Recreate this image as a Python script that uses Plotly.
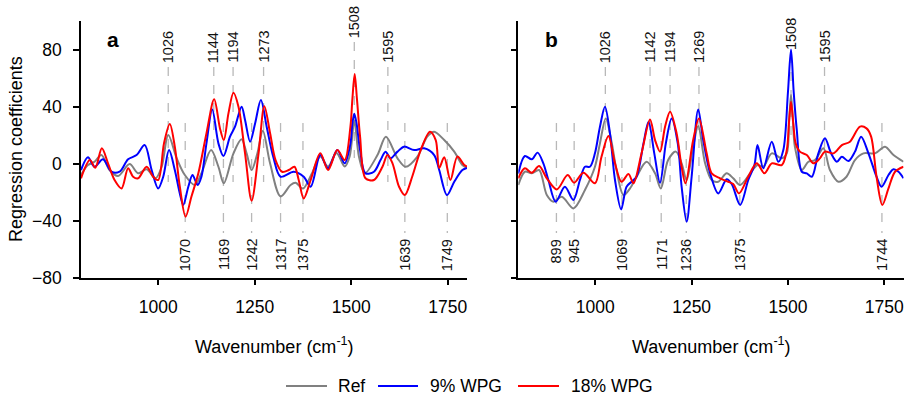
import plotly.graph_objects as go

# ---------------- data ----------------
# Panel a
a_ref_x = [800, 818, 835, 853, 874, 896, 926, 948, 970, 993, 1009, 1026, 1048, 1069, 1095, 1112, 1137, 1156, 1170, 1195,
           1216, 1229, 1242, 1257, 1271, 1290, 1317, 1343, 1356, 1375, 1398, 1420, 1440, 1462, 1483, 1496, 1508, 1520,
           1535, 1568, 1590, 1620, 1641, 1671, 1697, 1715, 1741, 1767, 1788, 1800]
a_ref_y = [-8, -1, 1.3, 6, -4.5, -8.7, -0.3, -6.8, -4, -10.3, -2.2, 20, 3.7, -8, -15, -6.8, 9.5, -2.2, -13.8, 7.2,
           17, 7.2, -4.5, 7.2, 23.1, 0, -23, -15, -13.5, -17.5, -7, 5, -2, 7.5, -2, 5, 30, 5,
           -6.8, 6, 18.9, 3.7, -2.2, 4.8, 18.9, 22.4, 16.5, 8.4, -1, -3]

a_wpg9_x = [800, 818, 835, 857, 879, 900, 922, 944, 965, 983, 1000, 1013, 1028, 1043, 1056, 1065, 1078, 1089, 1102,
            1112, 1125, 1140, 1156, 1169, 1186, 1199, 1216, 1225, 1238, 1251, 1266, 1281, 1298, 1317, 1351, 1377,
            1395, 1420, 1440, 1464, 1483, 1498, 1503, 1508, 1514, 1523, 1537, 1559, 1576, 1589, 1602, 1620, 1637,
            1663, 1689, 1715, 1728, 1748, 1767, 1788, 1800]
a_wpg9_y = [-4.5, 4.4, -2.2, 3, -5.7, -5.7, 3, 6, 13, -4.5, -17.4, -9.2, 9.5, -4.5, -20.9, -29, -16.2, -8, -15,
            -9.2, 14.2, 38, 14.2, 5.3, 18.9, 25.9, 39.9, 30.6, 15.4, 28.2, 44.6, 25.9, 4.8, -9.2, -5.7, -9.2,
            -16.2, 6, -3.3, 9.5, 0.2, 14, 28, 35, 28, 9.5, -6.8, -5.7, 2.5, 8.4, 3.7, 8.4, 11.9,
            9.5, 10.7, 6, -4.5, -22, -12.7, -4.5, -3]

a_wpg18_x = [800, 823, 837, 854, 870, 887, 905, 922, 935, 948, 970, 987, 1000, 1015, 1030, 1043, 1056, 1071, 1086,
             1104, 1125, 1145, 1160, 1170, 1182, 1195, 1208, 1225, 1242, 1260, 1275, 1290, 1304, 1321, 1338, 1353,
             1364, 1377, 1395, 1420, 1440, 1464, 1483, 1498, 1503, 1509, 1515, 1523, 1537, 1559, 1581, 1594, 1607,
             1624, 1639, 1658, 1680, 1704, 1719, 1728, 1741, 1757, 1775, 1793, 1800]
a_wpg18_y = [-10.3, 2.5, -2.9, 10.7, 0.2, -11.5, -17.4, -3.3, -9.2, -10.3, -2.2, -9.2, -11.5, 14.2, 27.8, 11.9, -16.2,
             -37.2, -23.2, -6.8, 21.2, 45.1, 24.7, 16.5, 35.2, 49.7, 39.9, 7.2, -26, 7.2, 40.2, 21.2, 2.5, -5.7, -4.5,
             -2.2, -11.5, -24.4, -11.5, 7.2, -4.5, 9.5, 2.5, 25.9, 45, 62.8, 45, 18.9, -10.3, -11.5, -2.2, 6, 0.2,
             -16.2, -22, -9.2, 9.5, 22.4, 16.5, -3, 4.5, -11.5, 4.9, -1, -2]

# Panel b
b_ref_x = [800, 817, 835, 854, 874, 891, 913, 943, 973, 999, 1012, 1027, 1042, 1055, 1073, 1090, 1107, 1133, 1155,
           1170, 1189, 1209, 1224, 1237, 1254, 1267, 1285, 1302, 1319, 1341, 1358, 1376, 1402, 1421, 1436, 1458,
           1484, 1497, 1503, 1508, 1513, 1518, 1536, 1553, 1570, 1592, 1609, 1631, 1652, 1674, 1696, 1726, 1752,
           1774, 1800]
b_ref_y = [-15, -5.7, -6.8, -4.5, -22, -26.7, -23.2, -31.4, -18.5, -2.2, 14.2, 31.7, 15.4, -4.5, -22, -17.4, -9.2,
           1.3, -6.8, -17.4, 2.5, 8.4, 0.2, -11.5, 11.9, 26.4, 0.2, -11.5, -12.7, -6.8, -10.3, -15, -6.8, -1, -2.2,
           7.2, 3.7, 7.2, 30, 48.1, 30, 11.9, -4.5, 1.3, 2.5, 10.7, -4.5, -12.7, -9.2, 2.5, 7.2, 7.2, 11.9,
           6, 1.3]

b_wpg9_x = [800, 817, 835, 850, 865, 878, 897, 921, 943, 960, 973, 986, 999, 1012, 1025, 1038, 1051, 1067, 1081,
            1094, 1107, 1125, 1138, 1153, 1168, 1183, 1198, 1214, 1224, 1237, 1250, 1267, 1280, 1298, 1319, 1341,
            1354, 1376, 1397, 1413, 1421, 1436, 1458, 1475, 1488, 1500, 1508, 1515, 1523, 1536, 1549, 1562, 1579,
            1596, 1612, 1627, 1640, 1657, 1674, 1690, 1709, 1730, 1743, 1761, 1774, 1787, 1800]
b_wpg9_y = [-7, 5.3, 3, 7.7, 0.2, -11.5, -26.7, -16.2, -25.5, -11.5, -2.2, -2.2, 7.2, 25.9, 39.9, 21.2, -11.5, -32.1,
            -16.2, -12.7, -9.2, 14.2, 29.4, 7.2, -13.4, 14.2, 31.7, 14.2, -16.2, -40.7, -9.2, 38, 16.5, -6.8, -20.9,
            -11, -14.3, -29, -11.5, -1, 13, -3.3, 15.4, 1.3, 9.5, 50, 80, 50, 23.5, -5.7, -6.8, -9.2, 7.2,
            17.7, 7.2, 1.3, 4.8, 1.8, 8.4, 18.9, 7.2, -9.2, -16.2, -8, -4, -5.7, -10.3]

b_wpg18_x = [800, 817, 835, 854, 874, 900, 928, 945, 969, 999, 1016, 1034, 1051, 1068, 1086, 1099, 1120, 1142, 1155,
             1168, 1181, 1194, 1211, 1224, 1234, 1254, 1269, 1289, 1302, 1324, 1345, 1358, 1373, 1397, 1419, 1439,
             1458, 1484, 1497, 1503, 1508, 1514, 1520, 1531, 1549, 1566, 1583, 1596, 1618, 1640, 1661, 1687, 1704,
             1716, 1730, 1745, 1761, 1778, 1800]
b_wpg18_y = [-10.3, -3.3, -6.4, -1.7, -10.3, -18.1, -8, -13.4, -6.4, -13.8, 4.8, 19.3, 0.2, -12.7, -7.3, -13.8, 7.2,
             31, 16.5, 8.4, 25.9, 36.4, 21.2, -2.2, -13.8, 16.5, 31.7, 7.2, -6.8, -10.3, -12.7, -14.3, -20.9, -9.2,
             0.2, -6.8, 0.2, -1, 9.5, 30, 43.4, 28, 14.2, 8.4, 6, 0.2, 3.7, 8.4, 7.2, 13, 15.4, 25.9, 24.7,
             18.9, -9.2, -29, -17.4, -5.7, -2.2]

series_names = ["Ref", "9% WPG", "18% WPG"]
series_colors = ["#808080", "#0000FF", "#FF0000"]

# Peak markers
a_peaks_top = [1026, 1144, 1194, 1273, 1595]
a_peaks_high = [1508]
a_peaks_bot = [1070, 1169, 1242, 1317, 1375, 1639, 1749]
b_peaks_top = [1026, 1142, 1194, 1269, 1595]
b_peaks_high = [1508]
b_peaks_bot = [899, 945, 1069, 1171, 1236, 1375, 1744]

x_ticks = [1000, 1250, 1500, 1750]
y_ticks = [-80, -40, 0, 40, 80]
x_range = [800, 1800]
y_range = [-80, 100]

# ---------------- figure ----------------
W, H = 908, 396
FONT = "Liberation Sans, Arial, sans-serif"

fig = go.Figure()

panels = [
    ("x", "y", [(a_ref_x, a_ref_y), (a_wpg9_x, a_wpg9_y), (a_wpg18_x, a_wpg18_y)]),
    ("x2", "y2", [(b_ref_x, b_ref_y), (b_wpg9_x, b_wpg9_y), (b_wpg18_x, b_wpg18_y)]),
]
for xa, ya, data in panels:
    for (xs, ys), name, col in zip(data, series_names, series_colors):
        fig.add_trace(go.Scatter(x=xs, y=ys, mode="lines", name=name, xaxis=xa, yaxis=ya,
                                 line=dict(color=col, width=2, shape="spline", smoothing=0.9),
                                 showlegend=False))

def py2v(py):
    # pixel row -> data value
    return (163.6 - py) / 1.426

dash_col = "#b8b8b8"
shapes = []
annotations = []

def add_peaks(xa, ya, top, high, bot, high_txt_py, high_dash):
    for w in top:
        shapes.append(dict(type="line", xref=xa, yref=ya, x0=w, x1=w, y0=py2v(67), y1=py2v(182),
                           line=dict(color=dash_col, width=1.3, dash="dash"), layer="below"))
        annotations.append(dict(xref=xa, yref=ya, x=w, y=py2v(65), text=str(w), textangle=-90,
                                showarrow=False, xanchor="center", yanchor="bottom",
                                font=dict(size=14.5, color="#111", family=FONT)))
    for w in high:
        shapes.append(dict(type="line", xref=xa, yref=ya, x0=w, x1=w, y0=py2v(high_dash[0]), y1=py2v(high_dash[1]),
                           line=dict(color=dash_col, width=1.3, dash="dash"), layer="below"))
        annotations.append(dict(xref=xa, yref=ya, x=w, y=py2v(high_txt_py), text=str(w), textangle=-90,
                                showarrow=False, xanchor="center", yanchor="bottom",
                                font=dict(size=14.5, color="#111", family=FONT)))
    for w in bot:
        shapes.append(dict(type="line", xref=xa, yref=ya, x0=w, x1=w, y0=py2v(123), y1=py2v(233),
                           line=dict(color=dash_col, width=1.3, dash="dash"), layer="below"))
        annotations.append(dict(xref=xa, yref=ya, x=w, y=py2v(237), text=str(w), textangle=-90,
                                showarrow=False, xanchor="center", yanchor="top",
                                font=dict(size=14.5, color="#111", family=FONT)))

add_peaks("x", "y", a_peaks_top, a_peaks_high, a_peaks_bot, 40, (42, 158))
add_peaks("x2", "y2", b_peaks_top, b_peaks_high, b_peaks_bot, 52, (54, 140))

# panel letters
annotations.append(dict(xref="paper", yref="paper", x=112.7 / W, y=1 - 40 / H, text="<b>a</b>", showarrow=False,
                        xanchor="center", yanchor="middle", font=dict(size=21, color="black", family=FONT)))
annotations.append(dict(xref="paper", yref="paper", x=551 / W, y=1 - 40 / H, text="<b>b</b>", showarrow=False,
                        xanchor="center", yanchor="middle", font=dict(size=21, color="black", family=FONT)))

# axis titles
annotations.append(dict(xref="paper", yref="paper", x=15.5 / W, y=1 - 149.5 / H, text="Regression coefficients",
                        textangle=-90, showarrow=False, xanchor="center", yanchor="middle",
                        font=dict(size=18, color="black", family=FONT)))
for cx in [274 / W, 711 / W]:
    annotations.append(dict(xref="paper", yref="paper", x=cx, y=1 - 345 / H, text="Wavenumber (cm<sup>-1</sup>)",
                            showarrow=False, xanchor="center", yanchor="middle",
                            font=dict(size=18, color="black", family=FONT)))

# legend (drawn to match the reference spacing)
legend_y = 1 - 386 / H
legend_items = [(286, 327, 336), (378, 418, 428), (518, 559, 569)]
for (l0, l1, tx), name, col in zip(legend_items, series_names, series_colors):
    shapes.append(dict(type="line", xref="paper", yref="paper", x0=l0 / W, x1=l1 / W, y0=legend_y, y1=legend_y,
                       line=dict(color=col, width=2.2)))
    annotations.append(dict(xref="paper", yref="paper", x=tx / W, y=legend_y, text=name, showarrow=False,
                            xanchor="left", yanchor="middle", font=dict(size=17.5, color="black", family=FONT)))

ydom = [1 - 277.7 / H, 1 - 21 / H]
axis_common = dict(showline=True, linecolor="black", linewidth=1.5, ticks="outside", ticklen=6, tickwidth=1.5,
                   tickcolor="black", showgrid=False, zeroline=False, automargin=False,
                   tickfont=dict(size=17.5, color="black", family=FONT))

fig.update_layout(
    width=W, height=H, margin=dict(l=0, r=0, t=0, b=0),
    paper_bgcolor="white", plot_bgcolor="white",
    font=dict(family=FONT, color="black"),
    showlegend=False,
    xaxis=dict(domain=[81 / W, 467 / W], range=x_range, tickvals=x_ticks, anchor="y",
               ticklabelstandoff=7, **axis_common),
    yaxis=dict(domain=ydom, range=y_range, tickvals=y_ticks, anchor="x", ticklabelstandoff=8, **axis_common),
    xaxis2=dict(domain=[518.3 / W, 903.5 / W], range=x_range, tickvals=x_ticks, anchor="y2",
                ticklabelstandoff=7, **axis_common),
    yaxis2=dict(domain=ydom, range=y_range, tickvals=y_ticks, anchor="x2", showticklabels=False, **axis_common),
    shapes=shapes, annotations=annotations,
)

fig.write_html("out.html")
